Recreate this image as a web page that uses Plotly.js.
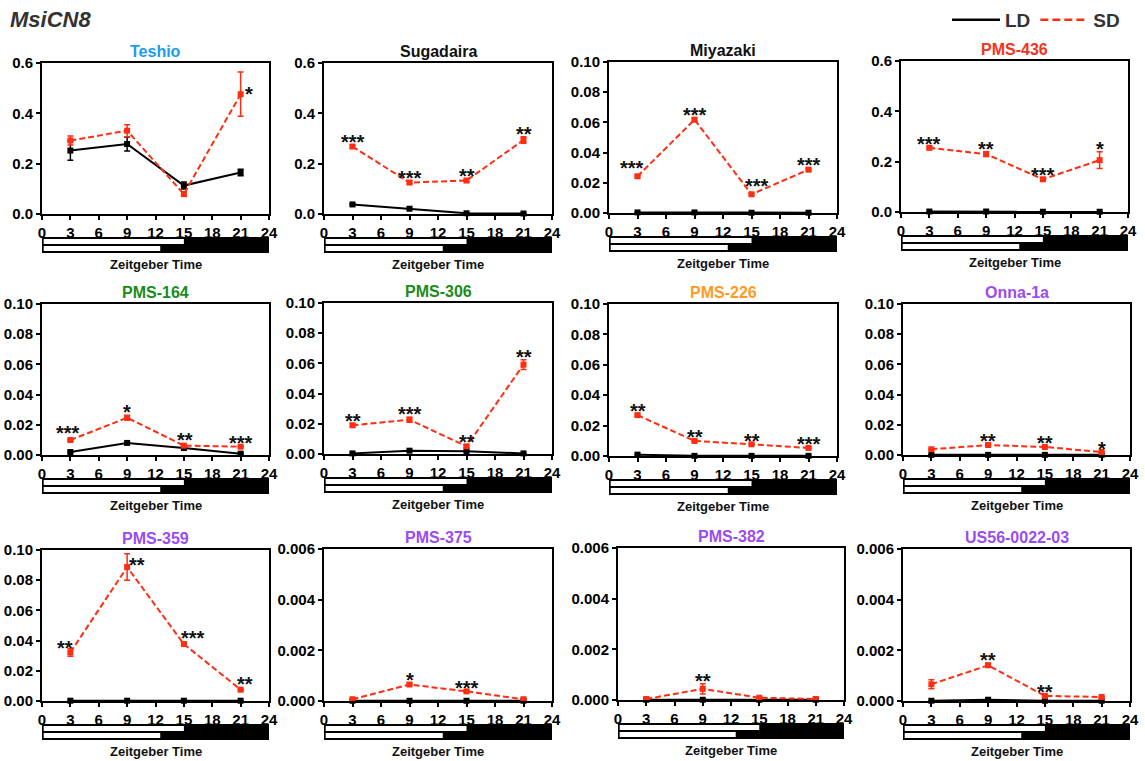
<!DOCTYPE html>
<html><head><meta charset="utf-8">
<script src="https://cdn.plot.ly/plotly-3.0.1.min.js"></script>
<style>html,body{margin:0;padding:0;background:#fff}#chart{width:1145px;height:761px}</style>
</head><body><div id="chart"></div>
<script>
// ---------------- DATA ----------------
const figureTitle = 'MsiCN8';
const seriesNames = ['LD', 'SD'];
const panelNames = ['Teshio', 'Sugadaira', 'Miyazaki', 'PMS-436',
                    'PMS-164', 'PMS-306', 'PMS-226', 'Onna-1a',
                    'PMS-359', 'PMS-375', 'PMS-382', 'US56-0022-03'];
const zt = [3, 9, 15, 21];
const xTickVals = [0, 3, 6, 9, 12, 15, 18, 21, 24];
const xAxisTitle = 'Zeitgeber Time';
const dayLength = 24;
const ldLightEnd = 15;
const sdLightEnd = 12.5;
const yMax   = [0.6, 0.6, 0.1, 0.6,  0.1, 0.1, 0.1, 0.1,  0.1, 0.006, 0.006, 0.006];
const yStep  = [0.2, 0.2, 0.02, 0.2, 0.02, 0.02, 0.02, 0.02, 0.02, 0.002, 0.002, 0.002];
const yDigits = [1, 1, 2, 1, 2, 2, 2, 2, 2, 3, 3, 3];

const ldMean = [
  [0.252, 0.278, 0.113, 0.165],
  [0.038, 0.021, 0.003, 0.002],
  [0.0004, 0.0004, 0.0002, 0.0002],
  [0.002, 0.002, 0.001, 0.001],
  [0.0020, 0.0080, 0.0046, 0.0009],
  [0.0004, 0.0022, 0.0018, 0.0004],
  [0.0009, 0.0001, 0.0001, 0.0001],
  [0.0001, 0.0001, 0.0001, 0.0001],
  [0.0002, 0.0002, 0.0002, 0.0002],
  [0.00001, 0.00001, 0.00001, 0.00001],
  [0.00001, 0.00001, 0.00001, 0.00001],
  [0.00001, 0.00005, 0.00001, 0.00001]
];
const ldErr = [
  [0.038, 0.028, 0.014, 0.013],
  [0.003, 0.002, 0.001, 0.001],
  [0, 0, 0, 0],
  [0, 0, 0, 0],
  [0.0003, 0.0004, 0.0003, 0.0002],
  [0.0001, 0.0003, 0.0002, 0.0001],
  [0.0002, 0, 0, 0],
  [0, 0, 0, 0],
  [0, 0, 0, 0],
  [0, 0, 0, 0],
  [0, 0, 0, 0],
  [0, 0.00001, 0, 0]
];
const sdMean = [
  [0.292, 0.331, 0.079, 0.476],
  [0.268, 0.125, 0.133, 0.294],
  [0.0243, 0.0618, 0.0124, 0.0287],
  [0.255, 0.230, 0.130, 0.206],
  [0.0099, 0.0247, 0.0062, 0.0055],
  [0.0190, 0.0227, 0.0051, 0.0592],
  [0.0269, 0.0099, 0.0077, 0.0053],
  [0.0038, 0.0066, 0.0053, 0.0020],
  [0.0322, 0.0887, 0.0377, 0.0075],
  [0.00007, 0.00065, 0.00038, 0.00007],
  [0.00004, 0.00044, 0.00009, 0.00004],
  [0.00066, 0.00141, 0.00020, 0.00016]
];
const sdErr = [
  [0.018, 0.024, 0.008, 0.088],
  [0.006, 0.005, 0.005, 0.013],
  [0.0008, 0.0010, 0.0006, 0.0008],
  [0.005, 0.009, 0.005, 0.033],
  [0.0007, 0.0015, 0.0005, 0.0004],
  [0.0012, 0.0016, 0.0008, 0.0033],
  [0.0008, 0.0006, 0.0005, 0.0004],
  [0.0005, 0.0005, 0.0004, 0.0003],
  [0.0026, 0.0088, 0.0008, 0.0005],
  [0.00003, 0.00005, 0.00003, 0.00002],
  [0.00002, 0.00020, 0.00003, 0.00002],
  [0.00018, 0.00008, 0.00003, 0.00002]
];
const significance = [
  ['', '', '', '*'],
  ['***', '***', '**', '**'],
  ['***', '***', '***', '***'],
  ['***', '**', '***', '*'],
  ['***', '*', '**', '***'],
  ['**', '***', '**', '**'],
  ['**', '**', '**', '***'],
  ['', '**', '**', '*'],
  ['**', '**', '***', '**'],
  ['', '*', '***', ''],
  ['', '**', '', ''],
  ['', '**', '**', '']
];

// ---------------- STYLE / GEOMETRY ----------------
const W = 1145, H = 761;
// plot boxes in pixels: [left, right, top, bottom]
const boxes = [
  [42, 269, 63, 214], [324, 552, 63, 214], [609, 837, 62, 213], [901, 1128, 61, 212],
  [42, 269, 304, 455], [324, 552, 303, 454], [609, 837, 304, 456], [903, 1130, 304, 455],
  [42, 269, 550, 701], [324, 552, 549, 701], [618, 844, 548, 700], [903, 1130, 549, 701]
];
const titleColors = ['#1a9cf2', '#111111', '#111111', '#f5331c',
                     '#1a8c1a', '#1a8c1a', '#ff9a1f', '#9b4cf0',
                     '#9b4cf0', '#9b4cf0', '#9b4cf0', '#9b4cf0'];
// star placement overrides: key "panel-index" -> [xshift, yshift, anchorAtPointOnly]
const starOverrides = {
  '0-3': [8, 0, true],
  '2-0': [-6, 7, false],
  '2-2': [5, 7, false],
  '4-0': [-2, 6, false],
  '4-2': [1, 5, false],
  '8-0': [-5, 4, true],
  '8-1': [10, 2, true],
  '8-2': [9, 6, true],
  '8-3': [4, 6, true]
};
const RED = '#ff2d12';
const FONT = 'Liberation Sans, Arial, Helvetica, sans-serif';

const traces = [];
const layout = {
  width: W, height: H,
  margin: {l: 0, r: 0, t: 0, b: 0},
  paper_bgcolor: '#fff', plot_bgcolor: 'rgba(0,0,0,0)',
  showlegend: true,
  barmode: 'overlay',
  font: {family: FONT, color: '#000'},
  legend: {
    orientation: 'h', x: 947 / W, y: 1 - 20 / H, xanchor: 'left', yanchor: 'middle',
    font: {family: FONT, size: 19, weight: 'bold', color: '#333'},
    itemwidth: 48, bgcolor: 'rgba(0,0,0,0)', borderwidth: 0
  },
  annotations: [], shapes: []
};

layout.annotations.push({
  xref: 'paper', yref: 'paper', x: 8 / W, y: 1 - 19 / H, xanchor: 'left', yanchor: 'middle',
  text: figureTitle, showarrow: false,
  font: {family: FONT, size: 22, weight: 'bold', style: 'italic', color: '#333'}
});

const axisStyle = {
  ticks: 'outside', ticklen: 4, tickwidth: 2, tickcolor: '#000',
  showline: true, linewidth: 2, linecolor: '#000', mirror: true,
  showgrid: false, zeroline: false, fixedrange: true,
  tickfont: {family: FONT, size: 15, weight: 'bold', color: '#000'}
};

panelNames.forEach((name, k) => {
  const id = k === 0 ? '' : String(k + 1);
  const sid = String(k + 13);
  const [x0, x1, yt, yb] = boxes[k];

  layout['xaxis' + id] = Object.assign({}, axisStyle, {
    domain: [x0 / W, x1 / W], range: [0, dayLength], tickvals: xTickVals,
    anchor: 'y' + id
  });
  layout['yaxis' + id] = Object.assign({}, axisStyle, {
    domain: [1 - yb / H, 1 - yt / H], range: [0, yMax[k]], tick0: 0, dtick: yStep[k],
    tickformat: '.' + yDigits[k] + 'f', anchor: 'x' + id
  });
  layout['xaxis' + sid] = {domain: [x0 / W, x1 / W], range: [0, dayLength], visible: false,
    fixedrange: true, anchor: 'y' + sid};
  layout['yaxis' + sid] = {domain: [1 - (yb + 39) / H, 1 - (yb + 23) / H], range: [0, 1],
    visible: false, fixedrange: true, anchor: 'x' + sid};

  traces.push({
    type: 'scatter', mode: 'lines+markers', x: zt, y: ldMean[k],
    xaxis: 'x' + id, yaxis: 'y' + id, showlegend: false, cliponaxis: false, name: seriesNames[0],
    line: {color: '#000', width: 2},
    marker: {symbol: 'square', size: 6, color: '#000'},
    error_y: {type: 'data', array: ldErr[k], color: '#000', thickness: 1.5, width: 3}
  });
  traces.push({
    type: 'scatter', mode: 'lines+markers', x: zt, y: sdMean[k],
    xaxis: 'x' + id, yaxis: 'y' + id, showlegend: false, cliponaxis: false, name: seriesNames[1],
    line: {color: RED, width: 2, dash: '6px,3px'},
    marker: {symbol: 'square', size: 6, color: RED},
    error_y: {type: 'data', array: sdErr[k], color: RED, thickness: 1.5, width: 3}
  });

  // light/dark bar
  const inset = 0.18;
  traces.push({type: 'bar', orientation: 'h', y: [0.5], x: [dayLength], base: [0], width: [1],
    xaxis: 'x' + sid, yaxis: 'y' + sid, showlegend: false, hoverinfo: 'skip',
    marker: {color: '#000', line: {width: 0}}});
  traces.push({type: 'bar', orientation: 'h', y: [0.72], x: [ldLightEnd - inset], base: [inset], width: [0.31],
    xaxis: 'x' + sid, yaxis: 'y' + sid, showlegend: false, hoverinfo: 'skip',
    marker: {color: '#fff', line: {width: 0}}});
  traces.push({type: 'bar', orientation: 'h', y: [0.28], x: [sdLightEnd - inset], base: [inset], width: [0.31],
    xaxis: 'x' + sid, yaxis: 'y' + sid, showlegend: false, hoverinfo: 'skip',
    marker: {color: '#fff', line: {width: 0}}});

  layout.annotations.push({
    xref: 'x' + id + ' domain', yref: 'y' + id + ' domain', x: 0.5, y: 1,
    xanchor: 'center', yanchor: 'bottom', yshift: 1, showarrow: false, text: name,
    font: {family: FONT, size: 16, weight: 'bold', color: titleColors[k]}
  });
  layout.annotations.push({
    xref: 'x' + sid + ' domain', yref: 'y' + sid + ' domain', x: 0.5, y: 0,
    xanchor: 'center', yanchor: 'top', yshift: -2, showarrow: false, text: xAxisTitle,
    font: {family: FONT, size: 13, weight: 'bold', color: '#111'}
  });

  significance[k].forEach((s, i) => {
    if (!s) return;
    const ov = starOverrides[k + '-' + i];
    const yv = ov && ov[2] ? sdMean[k][i] : sdMean[k][i] + sdErr[k][i];
    layout.annotations.push({
      xref: 'x' + id, yref: 'y' + id, x: zt[i], y: yv, xanchor: 'center', yanchor: 'middle',
      xshift: ov ? ov[0] : 0, yshift: ov ? ov[1] : 3, showarrow: false, text: s,
      font: {family: FONT, size: 20, weight: 'bold', color: '#111'}
    });
  });
});

// legend entries (single empty point, legend only)
traces.push({type: 'scatter', mode: 'lines', x: [null], y: [null], name: seriesNames[0], xaxis: 'x', yaxis: 'y',
  line: {color: '#000', width: 2.5}, showlegend: true, hoverinfo: 'skip'});
traces.push({type: 'scatter', mode: 'lines', x: [null], y: [null], name: seriesNames[1], xaxis: 'x', yaxis: 'y',
  line: {color: RED, width: 2.5, dash: '8px,4px'}, showlegend: true, hoverinfo: 'skip'});

Plotly.newPlot('chart', traces, layout, {staticPlot: true, displayModeBar: false});
</script>
</body></html>
